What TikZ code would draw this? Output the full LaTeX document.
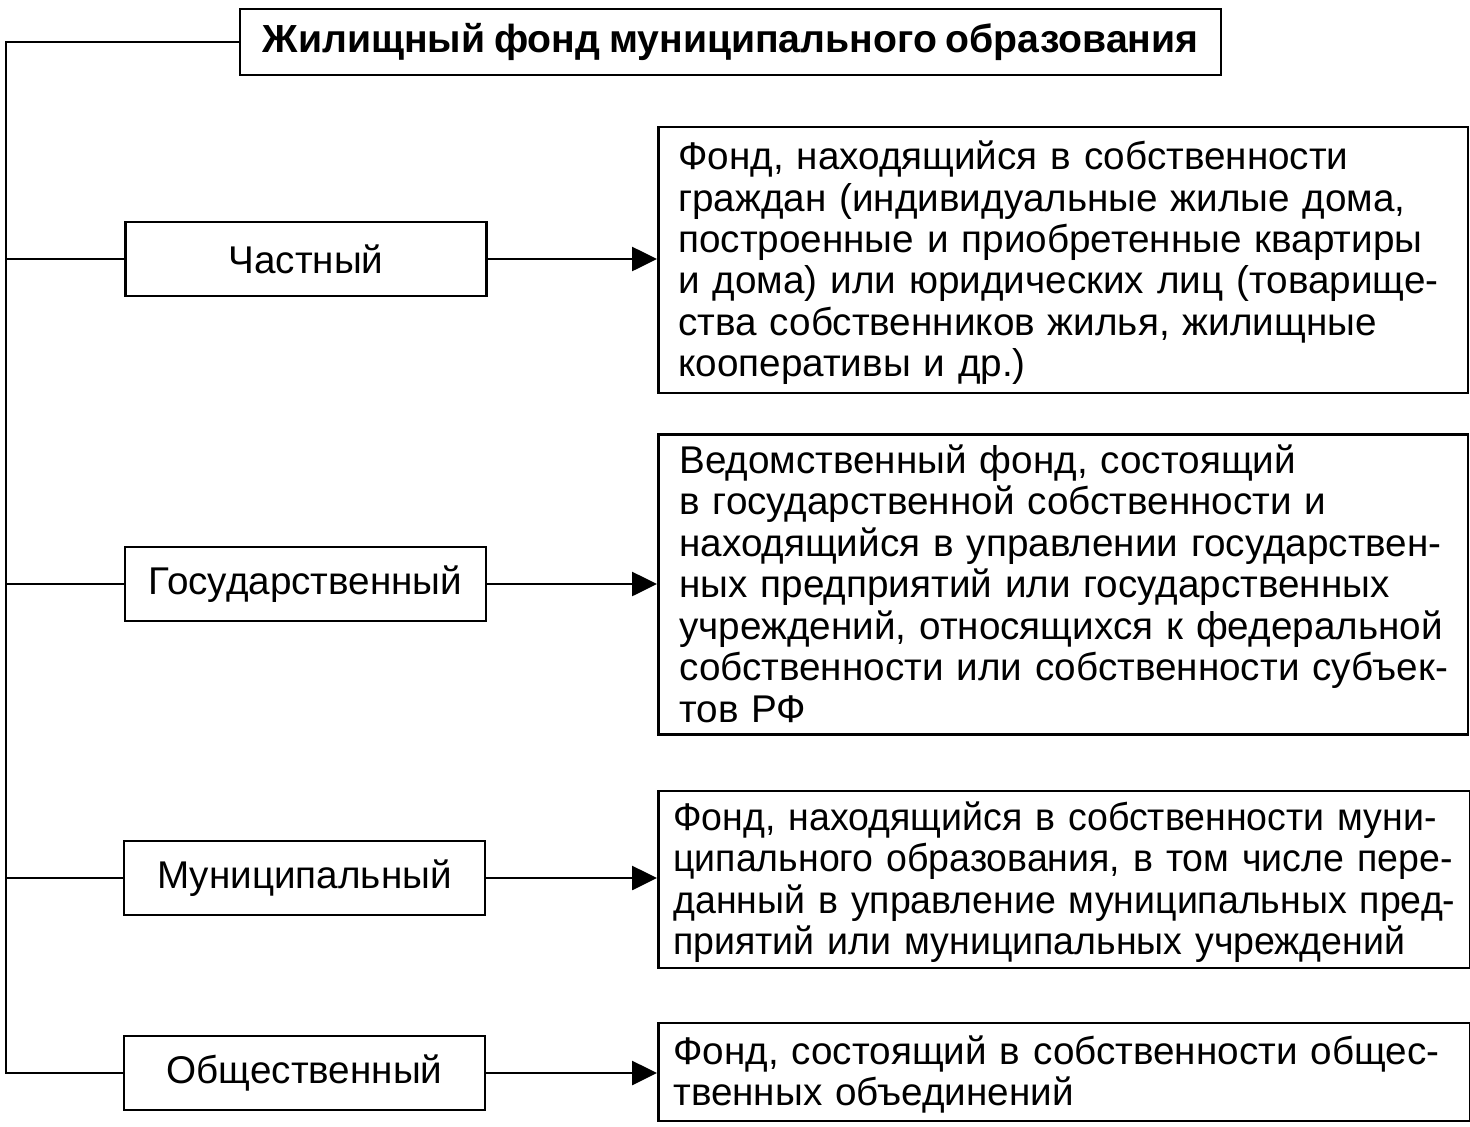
\documentclass[tikz,border=0pt]{standalone}
\usepackage{fontspec}
\setmainfont[WordSpace=0.8]{Liberation Sans}
\newfontfamily\narrowfont[WordSpace=0.8,FakeStretch=0.97]{Liberation Sans}
\usetikzlibrary{arrows.meta}

\newcommand{\fondtext}[1]{\raisebox{0pt}[\dimexpr\height+5.6pt][\depth]{\begin{tabular}{@{}l@{}}#1\end{tabular}}}

\begin{document}
\begin{tikzpicture}[x=0.02cm, y=-0.02cm,
    line width=1.5pt,
    every node/.style={font=\fontsize{22}{23.6}\selectfont},
    kind/.style={draw, minimum width=7.22cm, minimum height=1.48cm, inner sep=0pt},
    descr/.style={draw, anchor=west, minimum width=16.2cm, text width=15.4cm, align=left, inner xsep=0.4cm, inner ysep=0pt},
    feed/.style={-{Triangle[length=0.5cm, width=0.48cm]}}]

                  % Frame of the picture
                  \useasboundingbox (0,0) rectangle (1470,1126);

                  % Title box
                  \node[draw, minimum width=19.62cm, minimum height=1.32cm, inner sep=0pt,
                        font=\fontsize{22.3}{23.6}\selectfont\bfseries] (title) at (730.5,42)
                        {Жилищный фонд муниципального образования};

                  % Kinds of housing stock on the left
                  \node[kind] (chast) at (306,259) {Частный};
                  \node[kind] (gos)   at (305.5,584) {Государственный};
                  \node[kind] (mun)   at (304.5,878) {Муниципальный};
                  \node[kind] (obsch) at (304.5,1073) {Общественный};

                  % Descriptions on the right
                  \node[descr, minimum height=5.32cm] (chastd) at (657,260) {\fondtext{Фонд, находящийся в собственности\\
                        граждан (индивидуальные жилые дома,\\
                        построенные и приобретенные квартиры\\
                        и дома) или юридических лиц (товарище-\\
                        ства собственников жилья, жилищные\\
                        кооперативы и др.)}};
                  \node[descr, minimum height=5.94cm, text width=15.36cm, inner xsep=0.42cm] (gosd) at (657,584.5) {\fondtext{Ведомственный фонд, состоящий\\
                        в государственной собственности и\\
                        находящийся в управлении государствен-\\
                        ных предприятий или государственных\\
                        учреждений, относящихся к федеральной\\
                        собственности или собственности субъек-\\
                        тов РФ}};
                  \node[descr, minimum height=3.54cm, text width=15.64cm, inner xsep=0.3cm,
                        font=\fontsize{22}{23.6}\narrowfont] (mund) at (657,879.5) {\fondtext{Фонд, находящийся в собственности муни-\\
                        ципального образования, в том числе пере-\\
                        данный в управление муниципальных пред-\\
                        приятий или муниципальных учреждений}};
                  \node[descr, minimum height=1.96cm, text width=15.64cm, inner xsep=0.3cm] (obschd) at (657,1072) {\fondtext{Фонд, состоящий в собственности общес-\\
                        твенных объединений}};

                  % Spine on the left
                  \coordinate (spine) at (6,42);
                  \draw (title.west) -- (spine) |- (obsch.west);
                  \draw (spine |- chast.west) -- (chast.west);
                  \draw (spine |- gos.west) -- (gos.west);
                  \draw (spine |- mun.west) -- (mun.west);

                  % Arrows to the descriptions
                  \draw[feed] (chast) -- (chast -| chastd.west);
                  \draw[feed] (gos) -- (gos -| gosd.west);
                  \draw[feed] (mun) -- (mun -| mund.west);
                  \draw[feed] (obsch) -- (obsch -| obschd.west);
              \end{tikzpicture}
\end{document}
